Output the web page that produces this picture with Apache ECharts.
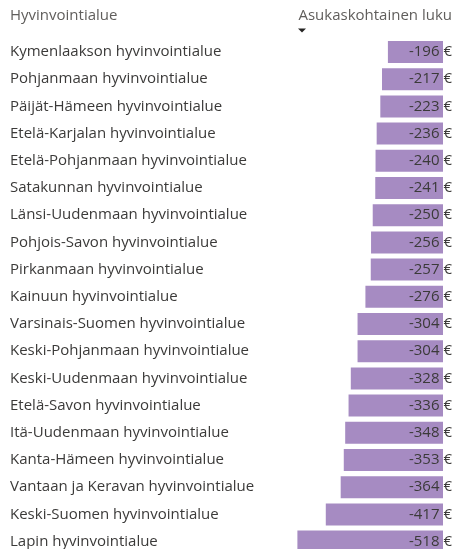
<!DOCTYPE html>
<html>
<head>
<meta charset="utf-8">
<script src="https://cdn.jsdelivr.net/npm/echarts@6/dist/echarts.min.js"></script>
<style>
  html, body { margin: 0; padding: 0; background: #fff; }
  #chart { width: 456px; height: 549px; }
</style>
</head>
<body>
<div id="chart"></div>
<script>
// hyvinvointialueet, järjestyksessä ylhäältä alas
const regions = [
  'Kymenlaakson hyvinvointialue',
  'Pohjanmaan hyvinvointialue',
  'Päijät-Hämeen hyvinvointialue',
  'Etelä-Karjalan hyvinvointialue',
  'Etelä-Pohjanmaan hyvinvointialue',
  'Satakunnan hyvinvointialue',
  'Länsi-Uudenmaan hyvinvointialue',
  'Pohjois-Savon hyvinvointialue',
  'Pirkanmaan hyvinvointialue',
  'Kainuun hyvinvointialue',
  'Varsinais-Suomen hyvinvointialue',
  'Keski-Pohjanmaan hyvinvointialue',
  'Keski-Uudenmaan hyvinvointialue',
  'Etelä-Savon hyvinvointialue',
  'Itä-Uudenmaan hyvinvointialue',
  'Kanta-Hämeen hyvinvointialue',
  'Vantaan ja Keravan hyvinvointialue',
  'Keski-Suomen hyvinvointialue',
  'Lapin hyvinvointialue'
];
const perCapita = [-196, -217, -223, -236, -240, -241, -250, -256, -257, -276,
  -304, -304, -328, -336, -348, -353, -364, -417, -518];

const font = 'Open Sans';
const myChart = echarts.init(document.getElementById('chart'));

myChart.setOption({
  animation: false,
  // viimeinen rivi jää osittain kuvan alareunan alle
  grid: {
    left: 297.4, right: 13, top: 38.4, height: 516.8,
    containLabel: false, outerBoundsMode: 'none'
  },
  xAxis: {
    type: 'value',
    min: -518,
    max: 0,
    show: false
  },
  yAxis: {
    type: 'category',
    data: regions,
    inverse: true,
    axisLine: { show: false },
    axisTick: { show: false },
    splitLine: { show: false },
    axisLabel: {
      align: 'left',
      margin: 287.4,
      color: '#3b3a39',
      fontFamily: font,
      fontSize: 15
    }
  },
  series: [
    {
      name: 'Asukaskohtainen luku',
      type: 'bar',
      data: perCapita,
      barCategoryGap: '19%',
      itemStyle: { color: '#a68bc2' },
      label: {
        show: true,
        position: 'insideRight',
        distance: -9,
        formatter: p => p.value + ' €',
        color: '#3b3a39',
        fontFamily: font,
        fontSize: 15
      }
    }
  ],
  graphic: [
    {
      type: 'text', left: 10, top: 8,
      style: { text: 'Hyvinvointialue', fill: '#605e5c', font: '15px "Open Sans"' }
    },
    {
      type: 'text', right: 4, top: 8,
      style: { text: 'Asukaskohtainen luku', fill: '#605e5c', font: '15px "Open Sans"' }
    },
    {
      type: 'polygon',
      shape: { points: [[298, 28.5], [306, 28.5], [302, 32.5]] },
      style: { fill: '#252423' }
    }
  ]
});
</script>
</body>
</html>
